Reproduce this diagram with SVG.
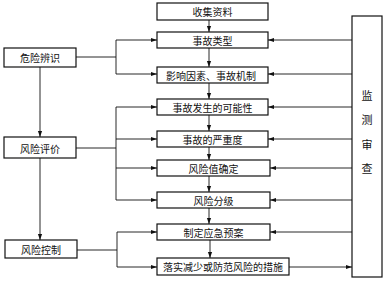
<svg xmlns="http://www.w3.org/2000/svg" width="390" height="282" viewBox="0 0 390 282">
<style>
rect{fill:#fff;stroke:#111;stroke-width:1.2}
text{font-family:"Noto Sans CJK SC","Noto Sans",sans-serif;font-size:10px;fill:#111;text-anchor:middle;dominant-baseline:central}
.c line,.c polyline{stroke:#111;stroke-width:0.9;fill:none}
.a{marker-end:url(#ah)}
</style>
<defs>
<marker id="ah" viewBox="0 0 10 10" refX="10" refY="5" markerWidth="8" markerHeight="6" markerUnits="userSpaceOnUse" orient="auto">
<path d="M0,1.5 L10,5 L0,8.5 Z" fill="#111"/>
</marker>
</defs>
<rect x="0" y="0" width="390" height="282" style="stroke:none"/>
<g class="c">
<!-- center column down arrows -->
<line class="a" x1="209" y1="20" x2="209" y2="32"/>
<line class="a" x1="209" y1="48" x2="209" y2="67"/>
<line class="a" x1="209" y1="83" x2="209" y2="99"/>
<line class="a" x1="209" y1="115" x2="209" y2="131"/>
<line class="a" x1="209" y1="147" x2="209" y2="160"/>
<line class="a" x1="209" y1="176" x2="209" y2="192"/>
<line class="a" x1="209" y1="208" x2="209" y2="224"/>
<line class="a" x1="210" y1="240" x2="210" y2="258"/>
<!-- left vertical arrows -->
<line class="a" x1="40" y1="67" x2="40" y2="137"/>
<line class="a" x1="40" y1="158" x2="40" y2="240"/>
<!-- 危险辨识 branch -->
<line x1="76" y1="57" x2="116" y2="57"/>
<line x1="116" y1="40" x2="116" y2="74"/>
<line class="a" x1="116" y1="40" x2="157" y2="40"/>
<line class="a" x1="116" y1="74" x2="157" y2="74"/>
<!-- 风险评价 branch -->
<line x1="76" y1="148" x2="116" y2="148"/>
<line x1="116" y1="107" x2="116" y2="200"/>
<line class="a" x1="116" y1="107" x2="157" y2="107"/>
<line class="a" x1="116" y1="139" x2="157" y2="139"/>
<line class="a" x1="116" y1="168" x2="157" y2="168"/>
<line class="a" x1="116" y1="200" x2="157" y2="200"/>
<!-- 风险控制 branch -->
<line x1="77" y1="250" x2="117" y2="250"/>
<line x1="117" y1="232" x2="117" y2="267"/>
<line class="a" x1="117" y1="232" x2="157" y2="232"/>
<line class="a" x1="117" y1="267" x2="157" y2="267"/>
<!-- 监测审查 feedback -->
<line class="a" x1="352" y1="40" x2="268" y2="40"/>
<line class="a" x1="352" y1="74" x2="268" y2="74"/>
<line class="a" x1="352" y1="107" x2="268" y2="107"/>
<line class="a" x1="352" y1="139" x2="268" y2="139"/>
<line class="a" x1="352" y1="168" x2="270" y2="168"/>
<line class="a" x1="352" y1="200" x2="270" y2="200"/>
<line class="a" x1="352" y1="232" x2="270" y2="232"/>
<line class="a" x1="289" y1="267" x2="352" y2="267"/>
</g>
<g id="n1"><rect x="157" y="3" width="111" height="17"/><text x="212.5" y="11.5">收集资料</text></g>
<g id="n2"><rect x="157" y="32" width="111" height="16"/><text x="212.5" y="40">事故类型</text></g>
<g id="n3"><rect x="157" y="67" width="111" height="16"/><text x="211" y="75">影响因素、事故机制</text></g>
<g id="n4"><rect x="157" y="99" width="111" height="16"/><text x="212.5" y="107">事故发生的可能性</text></g>
<g id="n5"><rect x="157" y="131" width="111" height="16"/><text x="212.5" y="139">事故的严重度</text></g>
<g id="n6"><rect x="157" y="160" width="113" height="16"/><text x="213.5" y="168">风险值确定</text></g>
<g id="n7"><rect x="157" y="192" width="113" height="16"/><text x="213.5" y="200">风险分级</text></g>
<g id="n8"><rect x="157" y="224" width="113" height="16"/><text x="213.5" y="232">制定应急预案</text></g>
<g id="n9"><rect x="157" y="258" width="132" height="17"/><text x="223" y="266.5">落实减少或防范风险的措施</text></g>
<g id="l1"><rect x="4" y="48" width="72" height="19"/><text x="40" y="57.5">危险辨识</text></g>
<g id="l2"><rect x="4" y="137" width="72" height="21"/><text x="40" y="148">风险评价</text></g>
<g id="l3"><rect x="5" y="240" width="72" height="18"/><text x="41" y="249">风险控制</text></g>
<g id="m"><rect x="352" y="16" width="30" height="261"/>
<text x="367" y="95" style="font-size:11px">监</text>
<text x="367" y="119" style="font-size:11px">测</text>
<text x="367" y="144" style="font-size:11px">审</text>
<text x="367" y="168" style="font-size:11px">查</text></g>
</svg>
